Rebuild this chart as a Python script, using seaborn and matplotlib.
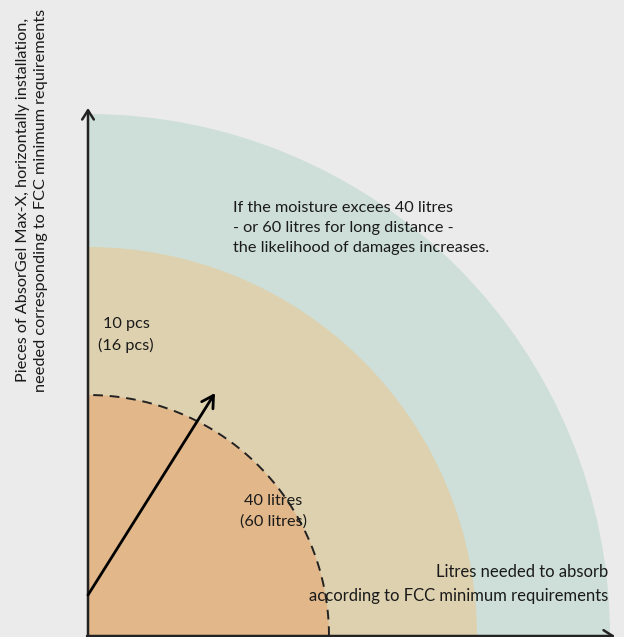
import numpy as np
import matplotlib
matplotlib.use("Agg")
import matplotlib.pyplot as plt
from matplotlib.patches import Wedge
import seaborn as sns

# zone radii (drawing units = px of the original diagram)
zone_names = ["40 litres", "limit", "damage"]
zone_radius = [241, 389, 522]
zone_colors = ["#e2b88b", "#ded1af", "#cddfd8"]

y_label = "Pieces of AbsorGel Max-X, horizontally installation,\nneeded corresponding to FCC minimum requirements"
x_label = "Litres needed to absorb\naccording to FCC minimum requirements"
warn_text = "If the moisture excees 40 litres\n- or 60 litres for long distance -\nthe likelihood of damages increases."
pcs_text = "10 pcs\n(16 pcs)"
litre_text = "40 litres\n(60 litres)"

sns.set_theme(style="white")
plt.rcParams['font.family'] = ['Lato', 'DejaVu Sans']

fig = plt.figure(figsize=(6.24, 6.37), dpi=100)
fig.patch.set_facecolor("#ebebeb")
ax = fig.add_axes([0, 0, 1, 1])
ax.set_facecolor("#ebebeb")
ax.set_xlim(-88, 536)
ax.set_ylim(-1, 636)
ax.set_axis_off()

# quarter-circle zones, largest first
for r, c in sorted(zip(zone_radius, zone_colors), reverse=True):
    ax.add_patch(Wedge((0, 0), r, 0, 90, facecolor=c, edgecolor="none", zorder=1))

# dashed border of the inner zone
t = np.linspace(0, np.pi / 2, 200)
sns.lineplot(x=zone_radius[0] * np.cos(t), y=zone_radius[0] * np.sin(t), sort=False,
             ax=ax, color="#222222", lw=1.4, linestyle=(0, (5, 3.5)), zorder=3)

# axes with arrows
ak = dict(arrowstyle="->,head_length=0.55,head_width=0.35", color="#222222", lw=1.8,
          shrinkA=0, shrinkB=0)
ax.annotate("", xy=(0, 528), xytext=(0, -1), arrowprops=ak, zorder=4)
ax.annotate("", xy=(527, 0), xytext=(-1, 0), arrowprops=ak, zorder=4)

# radius arrow
ra = dict(arrowstyle="->,head_length=0.7,head_width=0.4", color="black", lw=2,
          shrinkA=0, shrinkB=0)
ax.annotate("", xy=(127, 243), xytext=(0, 41), arrowprops=ra, zorder=4)

fs = 11.7
tc = "#1a1a1a"
ax.text(-56, 436, y_label, rotation=90, ha="center", va="center", fontsize=11.7,
        color=tc, linespacing=1.3)
ax.text(145, 408, warn_text, ha="left", va="center", fontsize=fs, color=tc, linespacing=1.55)
ax.text(38, 301, pcs_text, ha="center", va="center", fontsize=fs, color=tc, linespacing=1.55)
ax.text(185, 125, litre_text, ha="center", va="center", fontsize=fs, color=tc, linespacing=1.55)
ax.text(520, 52, x_label, ha="right", va="center", fontsize=12, color=tc, linespacing=1.55)

fig.savefig("out.png", dpi=100, facecolor=fig.get_facecolor())
